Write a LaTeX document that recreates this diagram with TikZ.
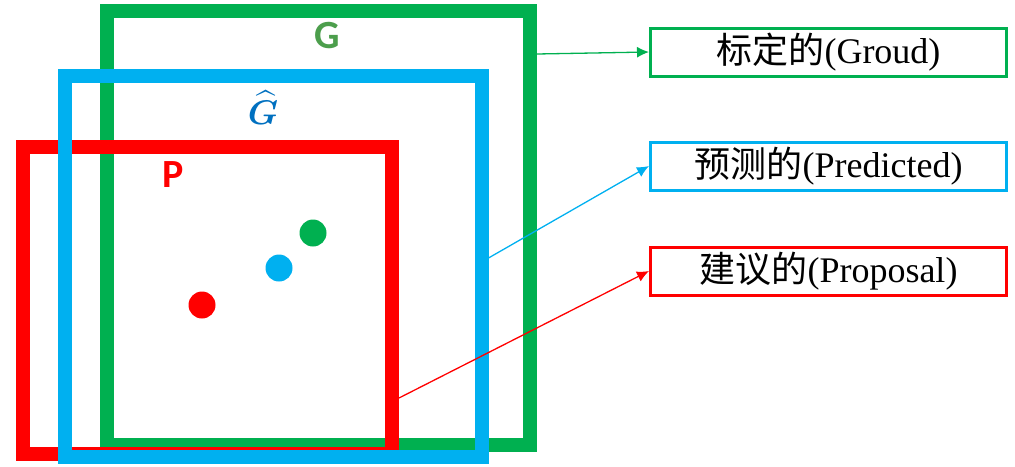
\documentclass[tikz,border=0pt]{standalone}
\usepackage{amsmath}
\usepackage{graphicx}
\usepackage{fontspec}
\setmainfont{Liberation Serif}
\newfontfamily\cjk{Noto Sans CJK SC}
\newfontfamily\calib{Carlito}
\usetikzlibrary{arrows.meta}

\definecolor{gtgreen}{RGB}{0,176,80}
\definecolor{gtletter}{RGB}{76,158,76}
\definecolor{pdblue}{RGB}{0,176,240}
\definecolor{pdletter}{RGB}{0,112,192}
\definecolor{ppred}{RGB}{255,0,0}

\tikzset{
	bigbox/.style={draw, line width=14pt, inner sep=0pt},
	labbox/.style={draw, line width=3pt, minimum width=356pt, minimum height=48pt, inner sep=0pt, font=\fontsize{36}{40}\selectfont},
	dot/.style={circle, fill, inner sep=0pt, minimum size=27pt},
	tag/.style={font=\fontsize{40}{44}\selectfont\calib\bfseries},
	link/.style={line width=1.3pt, -{Latex[length=12pt,width=11pt]}}
}

\begin{document}
\begin{tikzpicture}[x=1pt, y=-1pt]
			\useasboundingbox (0,0) rectangle (1015,466);
			
			\node[bigbox, gtgreen, minimum width=423.5pt, minimum height=434.5pt] (gt) at (318.25,227.75) {};
			\node[bigbox, ppred, minimum width=369.5pt, minimum height=306.5pt] (pp) at (207.25,300.25) {};
			\node[bigbox, pdblue, minimum width=416.5pt, minimum height=380.5pt] (pd) at (273.25,266.25) {};
			
			\node[tag, gtletter] (gname) at (327,36) {G};
			\node[pdletter, font=\huge] (pdname) at (263,108) {\scalebox{1.65}{$\boldsymbol{\widehat{G}}$}};
			\node[tag, ppred] (pname) at (173,175) {P};
			
			\node[dot, gtgreen] (gdot) at (313,233) {};
			\node[dot, pdblue] (pdot) at (279,268) {};
			\node[dot, ppred] (rdot) at (202,305) {};
			
			\node[labbox, gtgreen, text=black] (glab) at (828.5,52) {{\cjk 标定的}(Groud)};
			\node[labbox, pdblue, text=black] (plab) at (828.5,166) {{\cjk 预测的}(Predicted)};
			\node[labbox, ppred, text=black] (rlab) at (828.5,271) {{\cjk 建议的}(Proposal)};
			
			\coordinate (gout) at (gt.east |- 0,54);
			\coordinate (pout) at (pd.east |- 0,258);
			\coordinate (rout) at (pp.east |- 0,398);
			
			\draw[link, gtgreen] (gout) -- (glab.west);
			\draw[link, pdblue] (pout) -- (plab.west);
			\draw[link, ppred] (rout) -- (rlab.west);
		\end{tikzpicture}
\end{document}
